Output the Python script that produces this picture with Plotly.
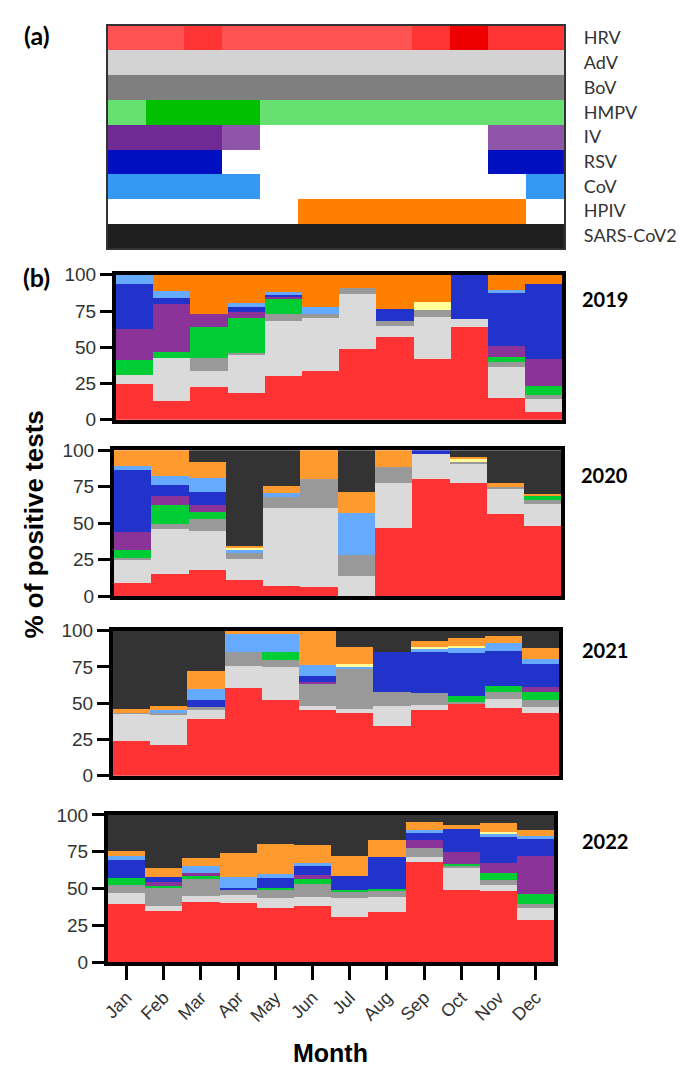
import plotly.graph_objects as go

# ---------------------------------------------------------------- data
months = ["Jan", "Feb", "Mar", "Apr", "May", "Jun",
          "Jul", "Aug", "Sep", "Oct", "Nov", "Dec"]
viruses = ["HRV", "AdV", "BoV", "HMPV", "IV", "RSV", "CoV", "HPIV", "SARS-CoV2"]
years = ["2019", "2020", "2021", "2022"]

# (a) seasonal activity level per month (0 = not circulating, 1..3 = intensity)
lvl_HRV = [1, 1, 2, 1, 1, 1, 1, 1, 2, 3, 2, 2]
lvl_AdV = [1] * 12
lvl_BoV = [1] * 12
lvl_HMPV = [1, 2, 2, 2, 1, 1, 1, 1, 1, 1, 1, 1]
lvl_IV = [2, 2, 2, 1, 0, 0, 0, 0, 0, 0, 1, 1]
lvl_RSV = [1, 1, 1, 0, 0, 0, 0, 0, 0, 0, 1, 1]
lvl_CoV = [1, 1, 1, 1, 0, 0, 0, 0, 0, 0, 0, 1]
lvl_HPIV = [0, 0, 0, 0, 0, 1, 1, 1, 1, 1, 1, 0]
lvl_SARS = [1] * 12

# (b) % of positive tests per virus, by month
HRV_2019 = [25.0, 13.2, 22.7, 18.9, 30.7, 33.6, 49.3, 57.3, 41.8, 64.3, 15.5, 5.5]
AdV_2019 = [6.4, 29.3, 10.9, 26.1, 37.5, 36.9, 37.7, 7.9, 29.3, 5.5, 20.9, 8.8]
BoV_2019 = [0, 0, 9.1, 1.1, 5.2, 2.9, 4.1, 3.4, 4.8, 0, 3.4, 2.7]
HMPV_2019 = [10.2, 4.1, 21.4, 24.4, 10.7, 0, 0, 0, 0, 0, 3.8, 6.2]
IV_2019 = [20.9, 33.6, 9.1, 4.0, 0.7, 0, 0, 0, 0, 0, 7.5, 18.8]
RSV_2019 = [31.4, 3.9, 0, 3.2, 1.6, 0, 0, 8.0, 0, 30.2, 36.4, 51.9]
CoV_2019 = [6.1, 5.2, 0, 3.0, 1.8, 4.3, 0, 0, 0, 0, 2.3, 0]
Oth_2019 = [0, 0, 0, 0, 0, 0, 0, 0, 5.2, 0, 0, 0]
HPIV_2019 = [0, 10.7, 26.8, 19.3, 11.8, 22.3, 8.9, 23.4, 18.9, 0, 10.2, 6.1]
SARS_2019 = [0] * 12

HRV_2020 = [8.7, 14.8, 18.2, 11.0, 6.7, 6.1, 0, 46.9, 80.0, 77.1, 56.5, 48.0]
AdV_2020 = [16.4, 31.4, 26.4, 14.6, 53.4, 54.0, 13.7, 30.2, 17.3, 13.5, 17.3, 15.0]
BoV_2020 = [0.9, 3.4, 7.9, 4.0, 7.4, 20.2, 14.1, 11.2, 0, 1.1, 1.1, 2.5]
HMPV_2020 = [5.6, 12.7, 4.9, 0, 0, 0, 0, 0, 0, 0, 0, 3.1]
IV_2020 = [12.3, 6.3, 5.2, 0, 0, 0, 0, 0, 0, 0, 0, 0]
RSV_2020 = [42.2, 7.4, 8.9, 0, 0, 0, 0, 0, 2.7, 0, 0, 0]
CoV_2020 = [3.1, 6.5, 9.0, 2.2, 2.9, 0, 29.2, 0, 0, 0, 0, 0]
Oth_2020 = [0, 0, 0, 1.6, 0, 0, 0, 0, 0, 2.2, 0, 0]
HPIV_2020 = [10.8, 17.5, 11.2, 1.1, 4.9, 19.7, 14.5, 11.7, 0, 1.1, 2.7, 1.4]
SARS_2020 = [0, 0, 8.3, 65.5, 24.7, 0, 28.5, 0, 0, 5.0, 22.4, 30.0]

HRV_2021 = [24.5, 21.6, 39.2, 60.6, 52.3, 45.3, 43.7, 34.2, 45.3, 49.5, 46.6, 43.2]
AdV_2021 = [18.7, 21.0, 6.1, 15.5, 22.9, 2.9, 2.7, 14.4, 4.0, 0, 6.6, 4.3]
BoV_2021 = [0.5, 0.6, 2.5, 9.7, 5.0, 15.8, 27.7, 9.7, 7.9, 1.4, 4.7, 5.2]
HMPV_2021 = [0, 0, 0, 0, 5.2, 0, 0, 0, 0, 4.5, 4.0, 5.6]
IV_2021 = [0, 0, 0, 0, 0, 0.6, 0, 0, 0, 0, 0, 3.0]
RSV_2021 = [0, 0, 4.5, 0, 0, 4.3, 0, 27.1, 28.6, 29.5, 24.1, 15.7]
CoV_2021 = [0, 2.3, 7.9, 11.9, 12.8, 7.9, 1.6, 0, 1.8, 3.4, 5.7, 3.9]
Oth_2021 = [0, 0, 0, 0, 0, 0, 1.3, 0, 1.6, 1.6, 0, 0]
HPIV_2021 = [2.3, 2.7, 12.4, 2.3, 1.8, 23.2, 11.7, 0, 4.0, 5.1, 4.9, 7.2]
SARS_2021 = [54.0, 51.8, 27.4, 0, 0, 0, 11.3, 14.6, 6.8, 5.0, 3.4, 11.9]

HRV_2022 = [39.5, 34.8, 40.6, 39.9, 37.0, 38.3, 30.5, 33.9, 67.9, 49.3, 48.4, 28.7]
AdV_2022 = [7.8, 3.5, 4.2, 5.6, 6.7, 6.1, 12.8, 10.5, 3.8, 14.8, 4.3, 8.3]
BoV_2022 = [4.9, 12.1, 11.9, 3.4, 5.6, 8.5, 4.9, 4.5, 5.7, 1.6, 2.9, 2.5]
HMPV_2022 = [5.0, 1.2, 1.8, 0, 1.1, 3.8, 0.7, 1.1, 0, 1.1, 4.9, 6.7]
IV_2022 = [0, 2.9, 2.3, 0, 0, 2.3, 0, 0, 5.8, 7.9, 7.0, 25.8]
RSV_2022 = [11.9, 3.3, 0, 1.8, 7.0, 6.0, 9.4, 21.7, 4.9, 16.1, 17.7, 12.3]
CoV_2022 = [3.3, 0, 4.2, 7.1, 2.2, 2.5, 0, 0, 1.8, 0, 2.5, 1.1]
Oth_2022 = [0, 0, 0, 0, 0, 0, 0, 0, 0, 0, 0.9, 0]
HPIV_2022 = [3.4, 6.1, 5.9, 16.2, 20.7, 12.3, 14.1, 11.5, 5.6, 2.5, 5.8, 4.5]
SARS_2022 = [24.2, 36.1, 29.1, 26.0, 19.7, 20.2, 27.6, 16.8, 4.5, 6.7, 5.6, 10.1]

# ---------------------------------------------------------------- styling
# heat-map colours for levels 0..3 of each virus
heat_colors = {
    "HRV": ["#ffffff", "#ff5252", "#ff3535", "#ee0000"],
    "AdV": ["#ffffff", "#d3d3d3", "#d3d3d3", "#d3d3d3"],
    "BoV": ["#ffffff", "#7f7f7f", "#7f7f7f", "#7f7f7f"],
    "HMPV": ["#ffffff", "#66e070", "#00c000", "#00c000"],
    "IV": ["#ffffff", "#8f55a8", "#702a94", "#702a94"],
    "RSV": ["#ffffff", "#0010c0", "#0010c0", "#0010c0"],
    "CoV": ["#ffffff", "#3399f3", "#3399f3", "#3399f3"],
    "HPIV": ["#ffffff", "#ff8000", "#ff8000", "#ff8000"],
    "SARS-CoV2": ["#ffffff", "#1e1e1e", "#1e1e1e", "#1e1e1e"],
}
bar_colors = {
    "HRV": "#ff3333", "AdV": "#dadada", "BoV": "#999999", "HMPV": "#00cc33",
    "IV": "#8c3399", "RSV": "#2233cc", "CoV": "#66aaff", "Other": "#ffff99",
    "SARS-CoV2": "#333333",
}
hpiv_bar_color = {"2019": "#ff8000", "2020": "#ff9a2e", "2021": "#ff9a2e", "2022": "#ff9a2e"}

levels = {"HRV": lvl_HRV, "AdV": lvl_AdV, "BoV": lvl_BoV, "HMPV": lvl_HMPV,
          "IV": lvl_IV, "RSV": lvl_RSV, "CoV": lvl_CoV, "HPIV": lvl_HPIV,
          "SARS-CoV2": lvl_SARS}

g = globals()
stack_order = ["HRV", "AdV", "BoV", "HMPV", "IV", "RSV", "CoV", "Oth", "HPIV", "SARS"]

W, H = 688, 1076


def px_x(a, b):
    return [a / W, b / W]


def px_y(top, bottom):
    return [1 - bottom / H, 1 - top / H]


fig = go.Figure()

# ---------------------------------------------------------------- (a) heat map
# every (virus, level) pair gets its own slot in one discrete palette
palette = []
z_rows = []
for v in viruses:
    row = []
    for lv in levels[v]:
        c = heat_colors[v][lv]
        if c not in palette:
            palette.append(c)
        row.append(palette.index(c))
    z_rows.append(row)

n = len(palette)
scale = []
for k, c in enumerate(palette):
    scale += [[k / n, c], [(k + 1) / n, c]]

fig.add_trace(go.Heatmap(
    x=list(range(12)), y=list(range(len(viruses))), z=z_rows,
    zmin=-0.5, zmax=n - 0.5, colorscale=scale, showscale=False,
    xaxis="x", yaxis="y", hoverinfo="skip",
))

# ---------------------------------------------------------------- (b) stacked bars
for i, yr in enumerate(years):
    ax = str(i + 2)
    for key in stack_order:
        vals = g[f"{key}_{yr}"]
        if key == "HPIV":
            color = hpiv_bar_color[yr]
            name = "HPIV"
        elif key == "Oth":
            color = bar_colors["Other"]
            name = "Other"
        elif key == "SARS":
            color = bar_colors["SARS-CoV2"]
            name = "SARS-CoV2"
        else:
            color = bar_colors[key]
            name = key
        fig.add_trace(go.Bar(
            x=months, y=vals, name=name, marker_color=color,
            marker_line_width=0, showlegend=False,
            xaxis="x" + ax, yaxis="y" + ax,
        ))

tick_font = dict(family="Liberation Sans, Arial, sans-serif", size=19, color="#333333")

layout = dict(
    width=W, height=H, margin=dict(l=0, r=0, t=0, b=0),
    paper_bgcolor="white", plot_bgcolor="white",
    barmode="stack", bargap=0, showlegend=False,
    xaxis=dict(domain=px_x(102, 563), range=[-0.5, 11.5],
               showticklabels=False, ticks="",
               showline=True, mirror=True, linewidth=2, linecolor="#333333",
               showgrid=False, zeroline=False),
    yaxis=dict(domain=px_y(16, 243), side="right", range=[8.5, -0.5],
               tickvals=list(range(len(viruses))), ticktext=viruses,
               tickfont=dict(family="Lato, sans-serif", size=18, color="#333333"),
               ticks="", ticklabelstandoff=14,
               showline=True, mirror=True, linewidth=2, linecolor="#333333",
               showgrid=False, zeroline=False),
)

panel_x = [(110, 561), (108, 560), (107, 558), (102, 553)]
panel_y = [(270, 418), (449, 598), (633, 781), (821, 971)]

for i in range(4):
    ax = str(i + 2)
    last = i == 3
    layout["xaxis" + ax] = dict(
        domain=px_x(*panel_x[i]), anchor="y" + ax, range=[-0.5, 11.5],
        showline=True, mirror=True, linewidth=4, linecolor="black",
        showgrid=False, zeroline=False,
        showticklabels=last, ticks="outside" if last else "",
        ticklen=14, tickwidth=3, tickcolor="black", tickangle=-45,
        tickfont=dict(family="Liberation Sans, Arial, sans-serif", size=18, color="#333333"),
    )
    layout["yaxis" + ax] = dict(
        domain=px_y(*panel_y[i]), anchor="x" + ax, range=[0, 100],
        tickvals=[0, 25, 50, 75, 100], ticks="outside", ticklen=12,
        tickwidth=3, tickcolor="black", tickfont=tick_font,
        showline=True, mirror=True, linewidth=4, linecolor="black",
        showgrid=False, zeroline=False,
    )

fig.update_layout(**layout)

# ---------------------------------------------------------------- text
label_font = dict(family="Lato, sans-serif", size=25, color="black")
year_font = dict(family="Lato, sans-serif", size=20, color="black")
year_pos = [295, 474, 653, 848]

annotations = [
    dict(text="<b>(a)</b>", x=30 / W, y=1 - 25 / H, font=label_font),
    dict(text="<b>(b)</b>", x=30 / W, y=1 - 272 / H, font=label_font),
    dict(text="<b>% of positive tests</b>", x=27 / W, y=1 - 525 / H, textangle=-90,
         font=dict(family="Liberation Sans, Arial, sans-serif", size=26, color="black")),
    dict(text="<b>Month</b>", x=327 / W, y=1 - 1064 / H,
         font=dict(family="Liberation Sans, Arial, sans-serif", size=25, color="black")),
]
for yr, yp in zip(years, year_pos):
    annotations.append(dict(text=f"<b>{yr}</b>", x=604 / W, y=1 - yp / H, font=year_font))

for a in annotations:
    a.update(xref="paper", yref="paper", showarrow=False, xanchor="center", yanchor="middle")

fig.update_layout(annotations=annotations)

fig.write_html("out.html")
